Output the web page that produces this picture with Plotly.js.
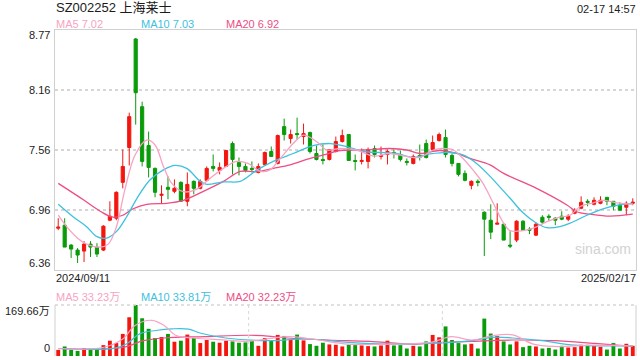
<!DOCTYPE html>
<html>
<head>
<meta charset="utf-8">
<script src="https://cdn.plot.ly/plotly-3.0.1.min.js"></script>
<style>
html,body{margin:0;padding:0;background:#fff;}
#chart{width:640px;height:360px;}
</style>
</head>
<body>
<div id="chart"></div>
<script>
// ---------- DATA ----------
const stockTitle = "SZ002252 上海莱士";
const timeStamp = "02-17 14:57";
const startDate = "2024/09/11";
const endDate = "2025/02/17";

const openP = [6.78,6.81,6.61,6.56,6.55,6.62,6.59,6.56,6.86,6.88,
7.24,7.59,8.68,8.00,7.61,7.38,7.11,7.19,7.15,7.24,
7.05,7.25,7.18,7.26,7.40,7.36,7.40,7.63,7.44,7.40,
7.38,7.34,7.42,7.55,7.43,7.80,7.68,7.73,7.70,7.74,
7.53,7.47,7.47,7.55,7.65,7.72,7.46,7.45,7.45,7.58,
7.50,7.52,7.54,7.52,7.45,7.43,7.51,7.63,7.57,7.66,
7.69,7.51,7.43,7.33,7.21,7.25,6.94,6.86,6.82,6.82,
6.61,6.66,6.85,6.77,6.71,6.89,6.90,6.88,6.90,6.87,
6.93,6.98,7.05,7.02,7.03,7.09,7.05,7.01,6.99,7.03];
const highP = [6.88,6.88,6.62,6.58,6.65,6.65,6.63,6.81,7.05,7.15,
7.57,7.94,8.69,8.05,7.75,7.39,7.21,7.30,7.27,7.25,
7.34,7.26,7.27,7.40,7.52,7.44,7.56,7.65,7.49,7.43,
7.45,7.43,7.55,7.60,7.72,7.88,7.77,7.89,7.83,7.75,
7.61,7.62,7.57,7.70,7.77,7.72,7.52,7.58,7.59,7.61,
7.60,7.57,7.57,7.56,7.48,7.52,7.62,7.67,7.71,7.74,
7.77,7.53,7.43,7.36,7.26,7.27,6.95,7.02,7.03,6.82,
6.75,6.86,6.86,6.79,6.84,6.91,6.92,6.89,6.95,6.92,
6.98,7.10,7.07,7.09,7.10,7.09,7.05,7.04,7.05,7.08];
const lowP = [6.76,6.59,6.48,6.43,6.44,6.49,6.49,6.55,6.85,6.86,
7.18,7.41,7.82,7.40,7.29,7.09,7.03,7.07,7.13,7.05,
7.00,7.12,7.17,7.25,7.35,7.32,7.40,7.32,7.31,7.34,
7.34,7.33,7.41,7.50,7.42,7.66,7.63,7.67,7.62,7.53,
7.46,7.42,7.46,7.54,7.64,7.46,7.36,7.42,7.38,7.49,
7.47,7.42,7.48,7.45,7.41,7.42,7.46,7.48,7.56,7.65,
7.49,7.40,7.30,7.25,7.17,7.20,6.50,6.67,6.82,6.66,
6.58,6.64,6.76,6.72,6.70,6.82,6.85,6.81,6.86,6.85,
6.92,6.97,7.00,7.01,7.02,7.01,6.96,6.96,6.91,7.01];
const closeP = [6.79,6.59,6.57,6.51,6.62,6.59,6.52,6.80,6.90,7.14,
7.40,7.90,8.14,7.45,7.39,7.14,7.12,7.17,7.18,7.05,
7.22,7.18,7.25,7.38,7.38,7.39,7.56,7.47,7.40,7.36,
7.37,7.40,7.54,7.50,7.71,7.72,7.72,7.72,7.73,7.55,
7.47,7.46,7.57,7.65,7.71,7.46,7.45,7.46,7.57,7.52,
7.51,7.55,7.53,7.47,7.44,7.50,7.49,7.49,7.64,7.72,
7.52,7.43,7.32,7.26,7.25,7.24,6.87,6.74,6.83,6.66,
6.60,6.85,6.76,6.76,6.82,6.84,6.89,6.86,6.87,6.90,
6.96,7.04,7.04,7.06,7.06,7.05,7.00,6.96,7.03,7.04];

// volume in 万 (10k shares)
const volume = [20.4,31.7,20.4,17.0,26.0,23.8,26.0,36.2,50.9,43.0,
73.5,128.9,169.66,125.5,90.5,59.9,63.3,73.5,47.5,50.9,
71.3,59.9,43.0,53.2,47.5,44.1,50.9,48.6,44.1,45.2,
50.9,33.9,59.9,53.2,70.1,66.7,53.2,71.3,52.0,39.6,
33.9,44.1,38.5,37.3,31.7,37.3,36.2,35.1,32.8,31.7,
35.1,50.9,35.1,36.2,24.9,33.9,31.7,48.6,70.1,62.2,
98.4,53.2,43.0,38.5,40.7,24.9,124.4,74.6,66.7,48.6,
38.5,48.6,29.4,33.9,31.7,24.9,27.1,21.5,33.9,28.3,
29.4,37.3,37.3,33.9,30.5,21.5,43.0,24.9,40.7,33.9];

// moving-average lines (x = candle position)
const ma5X = [0,1.3,3,4.4,6.5,7.75,9,10.3,11.9,13.7,15,16.3,17.6,19.4,21.4,23.5,25.6,27.6,29.4,31.3,32.8,34.4,36.4,38,40,41.6,43.6,46.2,48.8,51.4,54,56,58.1,59.6,61.2,62.7,64.3,65.8,67.4,69,70,72,73.6,75.7,77.7,79.3,80.8,82.9,84.4,86.5,89];
const ma5Y = [6.91,6.795,6.68,6.62,6.59,6.62,6.79,7.16,7.515,7.665,7.615,7.40,7.23,7.146,7.17,7.28,7.38,7.45,7.43,7.35,7.365,7.48,7.63,7.715,7.65,7.565,7.58,7.565,7.505,7.53,7.50,7.49,7.565,7.58,7.565,7.48,7.36,7.23,7.03,6.83,6.755,6.755,6.78,6.845,6.89,6.91,6.995,7.035,7.06,7.035,7.02];
const ma10X = [0,2.3,4.4,6,7.5,9,10.6,12.2,14.2,16.3,18.1,19.9,22,23,25.6,28.2,30.7,33.3,36.4,39.5,42.1,44.7,47.3,49.8,52.4,55,57.6,60.7,62.7,64.8,66.9,67.9,70,72,74.1,75.7,77.7,79.3,81.9,84.4,86.5,89];
const ma10Y = [7.02,6.895,6.795,6.695,6.68,6.745,6.895,7.08,7.264,7.365,7.41,7.38,7.25,7.22,7.245,7.25,7.36,7.45,7.53,7.61,7.63,7.60,7.55,7.54,7.53,7.49,7.525,7.54,7.515,7.43,7.30,7.23,7.08,6.935,6.83,6.785,6.795,6.83,6.91,6.975,7.01,7.03];
const ma20X = [0,3.9,6.5,8.5,10,11.6,13.7,16.8,19.4,22,25.6,28.2,30.7,33.3,35.9,38.5,41.1,43.6,47.3,51.4,54,56,59.1,61.7,63.8,66.9,69,74.1,78.8,80.3,82.4,85.5,89];
const ma20Y = [7.23,7.065,6.95,6.89,6.91,6.975,7.02,7.03,7.06,7.135,7.25,7.35,7.347,7.38,7.415,7.47,7.515,7.56,7.565,7.58,7.565,7.53,7.56,7.53,7.48,7.415,7.33,7.18,7.013,6.945,6.92,6.90,6.92];

const vma5X = [0,6.9,10.0,11.9,14.5,16.4,18.3,20.8,25.9,29.1,35.5,39.3,45.0,51.3,57.7,60.9,64.1,67.3,70.4,73.6,76.8,83.1,89];
const vma5Y = [24.9,28.3,56.6,101.8,118.8,101.8,67.9,59.9,53.2,48.6,64.5,56.6,39.6,39.6,45.2,64.5,53.2,67.9,70.1,39.6,31.7,36.2,33.2];
const vma10X = [0,8.8,10.7,12.6,15.1,17.7,20.2,22.1,25.9,32.3,38.6,45.0,51.3,57.7,64.1,67.3,70.4,74.9,80.0,86.3,89];
const vma10Y = [24.9,26.0,41.8,73.5,84.8,90.5,89.4,75.7,59.9,50.9,56.6,45.2,39.6,41.8,50.9,62.2,59.9,50.9,36.2,33.9,33.8];
const vma20X = [0,10.0,13.2,16.4,22.7,29.1,31.7,35.5,41.8,48.2,54.5,57.7,64.1,70.4,76.8,83.1,89];
const vma20Y = [24.9,28.3,50.9,59.9,64.5,69.0,67.9,59.9,53.2,48.6,39.6,43.0,48.6,53.2,50.9,41.8,32.2];

// axis tick values / labels
const priceMin = 6.36, priceMax = 8.77;
const priceTickVals = [8.77, 8.1675, 7.565, 6.9625, 6.36];
const priceTickText = ["8.77","8.16","7.56","6.96","6.36"];
const volMax = 169.66;
const volTickVals = [169.66, 0];
const volTickText = ["169.66万","0"];
const maLegend = ["MA5 7.02","MA10 7.03","MA20 6.92"];
const volLegend = ["MA5 33.23万","MA10 33.81万","MA20 32.23万"];
const watermark = "sina.com";

// ---------- STYLE ----------
const RED = "#f2160f", GREEN = "#0a9b0a";
const C5 = "#f7a3c3", C10 = "#3dc1de", C20 = "#ee4d85";
const FONT = "Arial, 'Liberation Sans', 'Noto Sans CJK SC', sans-serif";
const W = 640, H = 360, ML = 55, MR = 4, MT = 30, MB = 4;
const PW = W - ML - MR, PH = H - MT - MB;
const px = p => (p - ML) / PW;
const py = p => (H - MB - p) / PH;

const idx = closeP.map((_, i) => i);
const volColors = closeP.map((c, i) => c >= openP[i] ? RED : GREEN);

const traces = [
  {type:"candlestick", x:idx, open:openP, high:highP, low:lowP, close:closeP,
   xaxis:"x", yaxis:"y", whiskerwidth:0, hoverinfo:"none",
   increasing:{line:{color:RED,width:1}, fillcolor:RED},
   decreasing:{line:{color:GREEN,width:1}, fillcolor:GREEN}},
  {type:"scatter", mode:"lines", x:ma20X, y:ma20Y, xaxis:"x", yaxis:"y", line:{color:C20,width:1.3,shape:"spline",smoothing:1}, hoverinfo:"none"},
  {type:"scatter", mode:"lines", x:ma10X, y:ma10Y, xaxis:"x", yaxis:"y", line:{color:C10,width:1.3,shape:"spline",smoothing:1}, hoverinfo:"none"},
  {type:"scatter", mode:"lines", x:ma5X, y:ma5Y, xaxis:"x", yaxis:"y", line:{color:C5,width:1.3,shape:"spline",smoothing:1}, hoverinfo:"none"},
  {type:"bar", x:idx, y:volume, xaxis:"x2", yaxis:"y2", width:0.6, marker:{color:volColors, line:{width:0}}, hoverinfo:"none"},
  {type:"scatter", mode:"lines", x:vma20X, y:vma20Y, xaxis:"x2", yaxis:"y2", line:{color:C20,width:1.2,shape:"spline",smoothing:1}, hoverinfo:"none"},
  {type:"scatter", mode:"lines", x:vma10X, y:vma10Y, xaxis:"x2", yaxis:"y2", line:{color:C10,width:1.2,shape:"spline",smoothing:1}, hoverinfo:"none"},
  {type:"scatter", mode:"lines", x:vma5X, y:vma5Y, xaxis:"x2", yaxis:"y2", line:{color:C5,width:1.2,shape:"spline",smoothing:1}, hoverinfo:"none"}
];

const ann = [];
function txt(text, x, y, xanchor, color, size, extra) {
  ann.push(Object.assign({text:text, x:x, y:y, xref:"paper", yref:"paper", xanchor:xanchor, yanchor:"middle",
    showarrow:false, font:{family:FONT, size:size, color:color}}, extra || {}));
}
txt(stockTitle, px(54), py(8), "left", "#1a1a1a", 13);
txt(timeStamp, px(638), py(9), "right", "#222", 11);
txt(maLegend[0], px(54), py(24), "left", C5, 11);
txt(maLegend[1], px(139), py(24), "left", C10, 11);
txt(maLegend[2], px(224), py(24), "left", C20, 11);
const yShifts = [-5, 0, 0, 0, 7];
priceTickVals.forEach((v, i) => {
  ann.push({text:priceTickText[i], x:px(52), y:v, xref:"paper", yref:"y", xanchor:"right", yanchor:"middle",
    yshift:yShifts[i], showarrow:false, font:{family:FONT, size:11, color:"#222"}});
});
txt(startDate, px(54), py(278), "left", "#222", 11);
txt(endDate, px(638), py(278), "right", "#222", 11);
txt(volLegend[0], px(54), py(297), "left", C5, 11);
txt(volLegend[1], px(139), py(297), "left", C10, 11);
txt(volLegend[2], px(224), py(297), "left", C20, 11);
const vShifts = [-6, 8];
volTickVals.forEach((v, i) => {
  ann.push({text:volTickText[i], x:px(52), y:v, xref:"paper", yref:"y2", xanchor:"right", yanchor:"middle",
    yshift:vShifts[i], showarrow:false, font:{family:FONT, size:11, color:"#222"}});
});
txt(watermark, px(603), py(249), "center", "#d2d2d2", 14);

const GRID = "#d6d6d6", BORDER = "#d0d0d0";
const volTop = py(305);
const shapes = [
  {type:"line", xref:"paper", yref:"paper", x0:0, x1:1, y0:volTop, y1:volTop, line:{color:GRID, width:1.5, dash:"dot"}},
  {type:"line", xref:"paper", yref:"paper", x0:0, x1:0, y0:0, y1:volTop, line:{color:BORDER, width:1}},
  {type:"line", xref:"paper", yref:"paper", x0:1, x1:1, y0:0, y1:volTop, line:{color:BORDER, width:1}},
  {type:"line", xref:"paper", yref:"paper", x0:1/3, x1:1/3, y0:0, y1:volTop, line:{color:GRID, width:1, dash:"dot"}},
  {type:"line", xref:"paper", yref:"paper", x0:2/3, x1:2/3, y0:0, y1:volTop, line:{color:GRID, width:1, dash:"dot"}}
];

const layout = {
  width:W, height:H, margin:{l:ML, r:MR, t:MT, b:MB, pad:0},
  paper_bgcolor:"#fff", plot_bgcolor:"#fff", showlegend:false,
  font:{family:FONT, size:11, color:"#222"},
  xaxis:{domain:[0,1], range:[-0.5,89.5], anchor:"y", showgrid:false, zeroline:false, showticklabels:false,
    ticks:"", showline:true, mirror:true, linecolor:BORDER, linewidth:1, rangeslider:{visible:false}, fixedrange:true},
  yaxis:{domain:[py(270),1], range:[priceMin, priceMax], anchor:"x", tickvals:priceTickVals.slice(1,4), showticklabels:false,
    ticks:"", showgrid:true, gridcolor:GRID, griddash:"dot", gridwidth:1.5, zeroline:false,
    showline:true, mirror:true, linecolor:BORDER, linewidth:1, fixedrange:true},
  xaxis2:{domain:[0,1], range:[-0.5,89.5], anchor:"y2", matches:"x", showgrid:false, zeroline:false,
    showticklabels:false, ticks:"", showline:false, fixedrange:true},
  yaxis2:{domain:[0,volTop], range:[0, volMax], anchor:"x2", showgrid:false, zeroline:false,
    showticklabels:false, ticks:"", showline:false, fixedrange:true},
  bargap:0.4,
  annotations:ann, shapes:shapes
};

Plotly.newPlot("chart", traces, layout, {staticPlot:true, displayModeBar:false});
</script>
</body>
</html>
